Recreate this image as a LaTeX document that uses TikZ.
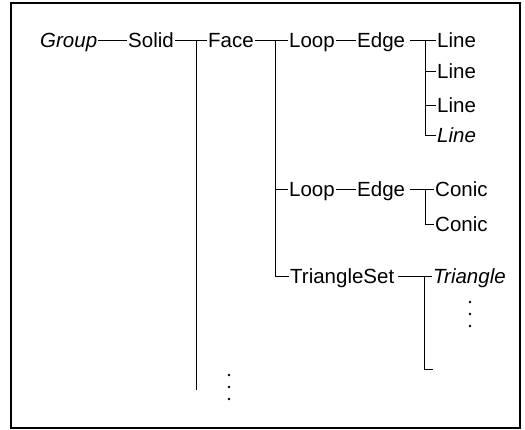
\documentclass[tikz,border=0pt]{standalone}
\usepackage{fontspec}
\setmainfont{Liberation Sans}
\begin{document}
\begin{tikzpicture}[x=1pt,y=-1pt,
  lbl/.style={anchor=west,inner xsep=1pt,inner ysep=0pt,text height=12.5pt,text depth=0pt,font=\fontsize{20.5}{23}\selectfont},
  conn/.style={line width=1pt,line cap=butt},
  vdots/.style={circle,fill=black,inner sep=0pt,minimum size=2.8pt}]
\useasboundingbox (0,0) rectangle (525,430);
\draw[line width=1.3pt] (11,3) rectangle (520,428);
% nodes
\node[lbl] (group) at (39,41) {\itshape Group};
\node[lbl] (solid) at (127,41) {Solid};
\node[lbl] (face) at (207,41) {Face};
\node[lbl] (loopa) at (288,41) {Loop};
\node[lbl] (edgea) at (356,41) {Edge};
\node[lbl] (linea) at (436,41) {Line};
\node[lbl] (lineb) at (436,72) {Line};
\node[lbl] (linec) at (436,106) {Line};
\node[lbl] (lined) at (436,136) {\itshape Line};
\node[lbl] (loopb) at (288,190) {Loop};
\node[lbl] (edgeb) at (356,190) {Edge};
\node[lbl] (conica) at (434,190) {Conic};
\node[lbl] (conicb) at (434,225) {Conic};
\node[lbl] (triset) at (289,277) {TriangleSet};
\node[lbl] (tri) at (432,277) {\itshape Triangle};
% junction coordinates
\coordinate (js) at (196,41);
\coordinate (jsend) at (196,390);
\coordinate (jf) at (275,41);
\coordinate (je1) at (425,41);
\coordinate (je2) at (425,190);
\coordinate (jt) at (424,277);
\coordinate (jtend) at (424,370);
\coordinate (jtstub) at (433,370);
% connectors
\draw[conn] (group) -- (solid);
\draw[conn] (solid) -- (face);
\draw[conn] (js) -- (jsend);
\draw[conn] (face) -- (loopa);
\draw[conn] (jf) |- (triset.west);
\draw[conn] (jf |- loopb.west) -- (loopb.west);
\draw[conn] (loopa) -- (edgea);
\draw[conn] (edgea.east) ++(4,0) -- (linea.west);
\draw[conn] (je1) |- (lined.west);
\draw[conn] (je1 |- lineb.west) -- (lineb.west);
\draw[conn] (je1 |- linec.west) -- (linec.west);
\draw[conn] (loopb) -- (edgeb);
\draw[conn] (edgeb.east) ++(4,0) -- (conica.west);
\draw[conn] (je2) |- (conicb.west);
\draw[conn] (triset.east) ++(3,0) -- (tri.west);
\draw[conn] (jt) -- (jtend) -- (jtstub);
% dots
\node[vdots] (d1) at (229,375) {};
\node[vdots] (d2) at (229,387) {};
\node[vdots] (d3) at (229,399) {};
\node[vdots] (d4) at (470,302) {};
\node[vdots] (d5) at (470,314) {};
\node[vdots] (d6) at (470,326) {};
\end{tikzpicture}
\end{document}
